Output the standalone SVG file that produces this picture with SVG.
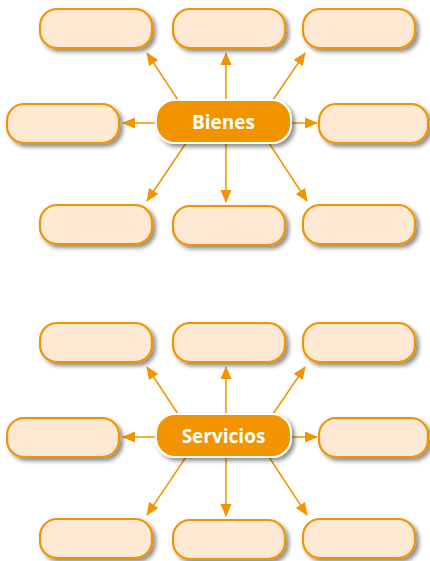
<svg xmlns="http://www.w3.org/2000/svg" width="430" height="561" viewBox="0 0 430 561">
<defs>
<filter id="sh" x="-20%" y="-30%" width="150%" height="180%">
<feGaussianBlur in="SourceAlpha" stdDeviation="2"/>
<feOffset dx="3" dy="3" result="b"/>
<feComponentTransfer><feFuncA type="linear" slope="0.45"/></feComponentTransfer>
<feMerge><feMergeNode/><feMergeNode in="SourceGraphic"/></feMerge>
</filter>
<marker id="ah" viewBox="0 0 13 11" refX="12" refY="5.5" markerWidth="13" markerHeight="11" markerUnits="userSpaceOnUse" orient="auto" overflow="visible">
<path d="M0,0 L13,5.5 L0,11 Z" fill="#f29400"/>
</marker>
<style>
.b{fill:#fde9d4;stroke:#f29400;stroke-width:2.2;filter:url(#sh)}
.c{fill:#f29400;stroke:#fff;stroke-width:2;filter:url(#sh)}
.t{font-family:"Open Sans","Liberation Sans",sans-serif;font-weight:bold;font-size:19px;fill:#fff;text-anchor:middle}
.l{stroke:#f29400;stroke-width:1.5;fill:none;marker-end:url(#ah)}
</style>
</defs>
<g id="bienes-group">
<g id="connectors-1">
<line class="l" x1="178" y1="100" x2="147" y2="53"/>
<line class="l" x1="226" y1="100" x2="226" y2="53"/>
<line class="l" x1="273" y1="100" x2="305" y2="53"/>
<line class="l" x1="157" y1="123" x2="123" y2="123"/>
<line class="l" x1="291" y1="123" x2="317" y2="123"/>
<line class="l" x1="186" y1="143" x2="147" y2="201"/>
<line class="l" x1="226" y1="143" x2="226" y2="202"/>
<line class="l" x1="269" y1="143" x2="307" y2="201"/>
</g>
<g id="b1"><rect class="b" x="40" y="9" width="112" height="39" rx="17"/></g>
<g id="b2"><rect class="b" x="173" y="9" width="112" height="39" rx="17"/></g>
<g id="b3"><rect class="b" x="303" y="9" width="112" height="39" rx="17"/></g>
<g id="b4"><rect class="b" x="7" y="104" width="112" height="39" rx="17"/></g>
<g id="b5"><rect class="b" x="319" y="104" width="109" height="39" rx="17"/></g>
<g id="b6"><rect class="b" x="40" y="205" width="112" height="39" rx="17"/></g>
<g id="b7"><rect class="b" x="173" y="206" width="112" height="39" rx="17"/></g>
<g id="b8"><rect class="b" x="303" y="205" width="112" height="39" rx="17"/></g>
<g id="bienes"><rect class="c" x="156" y="100" width="135" height="43" rx="19"/><text class="t" x="223.5" y="128.5">Bienes</text></g>
</g>
<g id="servicios-group" transform="translate(0,314)">
<g id="connectors-2">
<line class="l" x1="178" y1="100" x2="147" y2="53"/>
<line class="l" x1="226" y1="100" x2="226" y2="53"/>
<line class="l" x1="273" y1="100" x2="305" y2="53"/>
<line class="l" x1="157" y1="123" x2="123" y2="123"/>
<line class="l" x1="291" y1="123" x2="317" y2="123"/>
<line class="l" x1="186" y1="143" x2="147" y2="201"/>
<line class="l" x1="226" y1="143" x2="226" y2="202"/>
<line class="l" x1="269" y1="143" x2="307" y2="201"/>
</g>
<g id="s1"><rect class="b" x="40" y="9" width="112" height="39" rx="17"/></g>
<g id="s2"><rect class="b" x="173" y="9" width="112" height="39" rx="17"/></g>
<g id="s3"><rect class="b" x="303" y="9" width="112" height="39" rx="17"/></g>
<g id="s4"><rect class="b" x="7" y="104" width="112" height="39" rx="17"/></g>
<g id="s5"><rect class="b" x="319" y="104" width="109" height="39" rx="17"/></g>
<g id="s6"><rect class="b" x="40" y="205" width="112" height="39" rx="17"/></g>
<g id="s7"><rect class="b" x="173" y="206" width="112" height="39" rx="17"/></g>
<g id="s8"><rect class="b" x="303" y="205" width="112" height="39" rx="17"/></g>
<g id="servicios"><rect class="c" x="156" y="100" width="135" height="43" rx="19"/><text class="t" x="223.5" y="128.5">Servicios</text></g>
</g>
</svg>
